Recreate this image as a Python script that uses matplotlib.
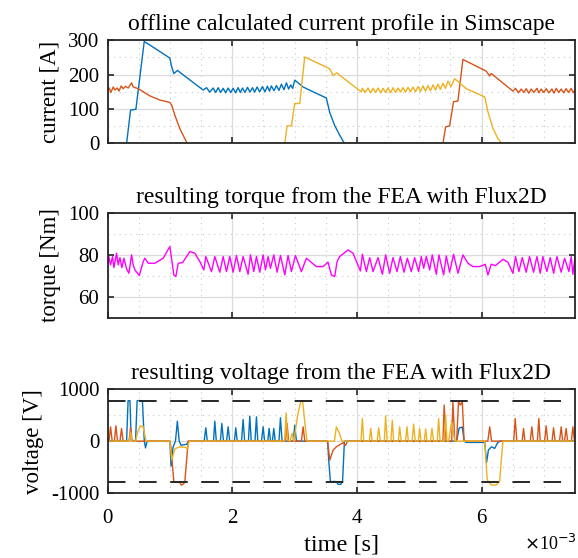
import matplotlib
matplotlib.use("Agg")
import matplotlib.pyplot as plt
from matplotlib.ticker import MultipleLocator, FuncFormatter
import numpy as np

# ---- data (time in ms) ----
# phase currents [A]
blue_cur_t = [0, 0.306, 0.37, 0.455, 0.589, 0.627, 1.0, 1.03, 1.064, 1.122, 1.534,
              1.588, 1.64, 1.694, 1.735, 1.775, 1.815, 1.855, 1.895, 1.935, 1.975, 2.015, 2.055,
              2.095, 2.13, 2.165, 2.205, 2.245, 2.285, 2.325, 2.36, 2.400, 2.44, 2.485, 2.525,
              2.565, 2.597, 2.629, 2.67, 2.709, 2.75, 2.789, 2.83, 2.870, 2.905, 2.939, 2.97, 3.003,
              3.137, 3.297, 3.51, 3.564, 3.644, 3.724, 3.80, 7.5]
blue_cur = [0, 0, 97, 99, 296, 292, 248, 222, 203, 212, 155,
            162, 149, 161, 148, 162, 148, 160, 147, 161, 148, 160, 147,
            162, 148, 161, 148, 163, 149, 162, 149, 164, 150, 165, 150,
            166, 152, 167, 153, 168, 154, 172, 156, 176, 158, 170, 160, 184,
            164, 150, 132, 90, 52, 24, 0, 0]

red_cur_t = [0, 0.028, 0.054, 0.092, 0.119, 0.156, 0.183, 0.220, 0.252, 0.290, 0.332, 0.386,
             0.412, 0.493, 0.68, 0.84, 1.0, 1.03, 1.08, 1.16, 1.24, 1.278,
             5.38, 5.423, 5.487, 5.55, 5.62, 5.70, 6.074, 6.128, 6.155, 6.502,
             6.545, 6.59, 6.636, 6.676, 6.716, 6.756, 6.796, 6.84, 6.887, 6.92, 6.956, 6.996,
             7.037, 7.08, 7.127, 7.16, 7.197, 7.237, 7.277, 7.316, 7.356, 7.396, 7.437, 7.47, 7.5]
red_cur = [150, 161, 148, 164, 155, 161, 152, 167, 159, 166, 161, 176,
           164, 159, 138, 126, 119, 111, 82, 43, 14, 0,
           0, 48, 51, 121, 123, 244, 210, 196, 203, 152,
           160, 147, 158, 148, 159, 146, 158, 148, 160, 147, 158, 148,
           159, 147, 158, 146, 160, 148, 158, 147, 159, 148, 160, 147, 155]

yel_cur_t = [0, 2.843, 2.88, 2.95, 3.003, 3.083, 3.163, 3.564, 3.617, 3.68, 3.724, 4.07,
             4.088, 4.13, 4.179, 4.22, 4.259, 4.30, 4.339, 4.38, 4.419, 4.46, 4.500, 4.54,
             4.579, 4.62, 4.660, 4.70, 4.739, 4.78, 4.820, 4.86, 4.900, 4.94, 4.980, 5.02,
             5.060, 5.10, 5.140, 5.18, 5.220, 5.26, 5.300, 5.34, 5.380, 5.42, 5.461, 5.51, 5.567,
             5.755, 6.05, 6.101, 6.181, 6.262, 6.326, 7.5]
yel_cur = [0, 0, 51, 51, 116, 116, 251, 217, 198, 205, 198, 150,
           160, 148, 161, 147, 160, 148, 161, 147, 160, 148, 161, 147,
           162, 148, 161, 149, 162, 149, 163, 150, 164, 150, 165, 151,
           167, 152, 168, 153, 170, 155, 172, 157, 175, 160, 181, 165, 188,
           159, 135, 92, 44, 14, 0, 0]

# torque [Nm]
torque_t = [0, 0.017, 0.049, 0.081, 0.103, 0.145, 0.172, 0.199, 0.231, 0.263, 0.306, 0.343,
            0.386, 0.412, 0.439, 0.509, 0.573, 0.599, 0.653, 0.760, 0.893, 1.000, 1.064, 1.096,
            1.134, 1.203, 1.321, 1.401, 1.481, 1.545, 1.577, 1.668, 1.721, 1.801, 1.855, 1.908,
            1.961, 2.015, 2.068, 2.122, 2.175, 2.255, 2.293, 2.346, 2.389, 2.442, 2.496, 2.533,
            2.576, 2.613, 2.667, 2.720, 2.774, 2.843, 2.896, 2.950, 3.014, 3.110, 3.190, 3.350,
            3.457, 3.537, 3.591, 3.644, 3.682, 3.724, 3.858, 3.938, 4.056, 4.088, 4.152, 4.205,
            4.259, 4.339, 4.409, 4.461, 4.525, 4.579, 4.643, 4.697, 4.755, 4.809, 4.873, 4.926,
            4.990, 5.033, 5.071, 5.113, 5.167, 5.209, 5.274, 5.316, 5.391, 5.434, 5.487, 5.551,
            5.621, 5.701, 5.781, 5.861, 5.968, 6.059, 6.102, 6.155, 6.224, 6.342, 6.422, 6.502,
            6.545, 6.598, 6.652, 6.716, 6.769, 6.834, 6.887, 6.941, 6.983, 7.047, 7.101, 7.155,
            7.208, 7.277, 7.331, 7.400, 7.437, 7.464, 7.5]
torque = [74.4, 79.7, 75.2, 79.2, 73.9, 80.8, 75.2, 78.7, 73.9, 78.4, 73.3, 71.2,
          80.0, 75.2, 72.8, 70.1, 76.8, 78.4, 76.0, 76.0, 78.4, 84.0, 70.4, 69.6,
          76.0, 76.3, 81.6, 80.8, 76.8, 72.8, 79.2, 72.0, 79.2, 71.7, 79.2, 72.0,
          79.2, 71.7, 79.7, 72.0, 79.2, 70.7, 80.0, 72.0, 79.2, 71.7, 80.0, 72.8,
          79.2, 73.6, 80.0, 71.7, 79.7, 70.4, 79.7, 72.0, 79.7, 72.0, 78.4, 74.4,
          74.4, 76.5, 70.4, 69.6, 76.8, 79.2, 82.4, 80.8, 72.3, 80.3, 72.0, 78.7,
          72.0, 78.7, 70.7, 80.0, 71.2, 78.7, 72.0, 79.2, 71.7, 78.4, 72.0, 78.7,
          72.0, 79.2, 73.6, 79.2, 72.8, 80.0, 70.7, 80.0, 70.4, 79.5, 71.7, 80.3,
          71.2, 80.0, 76.0, 74.4, 74.4, 75.5, 70.4, 75.5, 74.9, 77.9, 76.5, 71.2,
          79.2, 72.0, 78.7, 71.7, 79.2, 71.7, 79.2, 71.2, 79.2, 72.0, 78.7, 71.2,
          79.2, 71.7, 78.4, 72.0, 79.2, 70.7, 79.2]

# phase voltages [V]
blue_volt_t = [0, 0.306, 0.33, 0.36, 0.38, 0.45, 0.475, 0.56, 0.59, 0.61, 0.63, 0.66,
               1.0, 1.02, 1.05, 1.09, 1.12, 1.15, 1.18, 1.27, 1.3,
               1.55, 1.577, 1.60, 1.70, 1.721, 1.745, 1.81, 1.834, 1.86, 1.91, 1.935, 1.96,
               2.035, 2.058, 2.08, 2.15, 2.175, 2.20, 2.26, 2.282, 2.305, 2.365, 2.389, 2.41,
               2.47, 2.496, 2.52, 2.57, 2.592, 2.615, 2.645, 2.667, 2.69, 2.75, 2.774, 2.80,
               2.98, 3.003, 3.03, 3.53, 3.55, 3.575, 3.67, 3.70, 3.74, 3.77, 3.80,
               5.60, 5.64, 5.69, 5.72, 5.75, 6.05, 6.08, 6.11, 6.16, 6.21, 6.26, 6.30, 7.5]
blue_volt = [0, 0, 775, 775, 10, 10, 775, 775, 0, -130, -20, 0,
             0, -480, -120, 0, 380, 0, -80, -60, 0,
             0, 255, 0, 0, 382, 0, 0, 338, 0, 0, 274, 0,
             0, 255, 0, 0, 414, 0, 0, 478, 0, 0, 465, 0,
             0, 274, 0, 0, 242, 0, 0, 242, 0, 0, 446, 0,
             0, 306, 0, 0, -400, -775, -775, -830, -830, -775, 0,
             0, 250, 270, 0, -25, -25, -410, -170, -110, -140, -25, 0, 0]

red_volt_t = [0, 0.025, 0.049, 0.075, 0.11, 0.135, 0.16, 0.20, 0.225, 0.25, 0.345, 0.37, 0.395,
              1.0, 1.016, 1.064, 1.15, 1.187, 1.22, 1.24, 1.294,
              2.855, 2.88, 2.905, 3.11, 3.137, 3.165, 3.53, 3.565, 3.62, 3.67, 3.78, 3.82, 3.85,
              5.38, 5.40, 5.43, 5.52, 5.54, 5.57, 5.60, 5.63, 5.66, 5.69, 5.72,
              6.10, 6.13, 6.16, 6.515, 6.539, 6.565, 6.65, 6.673, 6.695, 6.78, 6.806, 6.83,
              6.895, 6.918, 6.94, 7.01, 7.036, 7.06, 7.13, 7.154, 7.18, 7.25, 7.277, 7.30,
              7.33, 7.356, 7.38, 7.44, 7.464, 7.49, 7.5]
red_volt = [0, 0, 274, 0, 0, 293, 0, 0, 242, 0, 0, 260, 0,
            0, -100, -778, -778, -845, -820, -778, 0,
            0, 340, 0, 0, 274, 0, 0, -363, -170, -110, -30, -80, 0,
            0, 690, 0, 0, 750, 0, 0, 760, 690, 760, 0,
            0, 274, 0, 0, 433, 0, 0, 242, 0, 0, 274, 0,
            0, 433, 0, 0, 293, 0, 0, 255, 0, 0, 274, 0,
            0, 242, 0, 0, 274, 0, 0]

yel_volt_t = [0, 0.35, 0.37, 0.39, 0.45, 0.49, 0.53, 0.57, 0.60, 0.62,
              1.0, 1.03, 1.08, 1.15, 1.25, 1.28, 1.31,
              2.84, 2.865, 2.89, 2.93, 2.96, 2.99, 3.05, 3.10, 3.13, 3.17, 3.20,
              3.64, 3.67, 3.72, 3.76,
              4.065, 4.088, 4.11, 4.20, 4.221, 4.245, 4.325, 4.35, 4.375, 4.44, 4.461, 4.485,
              4.545, 4.568, 4.59, 4.665, 4.686, 4.71, 4.78, 4.803, 4.825, 4.885, 4.910, 4.935,
              4.985, 5.006, 5.03, 5.08, 5.103, 5.125, 5.18, 5.204, 5.23, 5.29, 5.311, 5.335,
              5.40, 5.423, 5.445, 5.47, 5.52, 5.57,
              6.05, 6.09, 6.155, 6.235, 6.289, 6.342, 7.5]
yel_volt = [0, 0, 175, 0, 0, 200, 290, 280, 100, 0,
            0, -360, -150, -110, -120, -150, 0,
            0, 540, 20, 0, 150, 0, 500, 760, 760, 300, 0,
            0, 270, 150, 0,
            0, 433, 0, 0, 242, 0, 0, 255, 0, 0, 484, 0,
            0, 401, 0, 0, 274, 0, 0, 274, 0, 0, 325, 0,
            0, 242, 0, 0, 229, 0, 0, 242, 0, 0, 433, 0,
            0, 497, 0, 0, 370, 0,
            0, -745, -841, -841, -778, 0, 0]

dc_link = 775  # dashed limit lines

C_BLUE, C_RED, C_YEL = "#0072BD", "#D95319", "#EDB120"

plt.rcParams["font.family"] = ["Liberation Serif", "DejaVu Serif"]
plt.rcParams["font.size"] = 15
plt.rcParams["axes.unicode_minus"] = False

TITLE_FS = 17
LABEL_FS = 16.5

fig = plt.figure(figsize=(5.78, 5.58), dpi=100)
ax1 = fig.add_axes([0.186, 0.743, 0.809, 0.185])
ax2 = fig.add_axes([0.186, 0.431, 0.809, 0.187])
ax3 = fig.add_axes([0.186, 0.116, 0.809, 0.187])

ms = lambda v: np.asarray(v) * 1e-3

ax1.plot(ms(blue_cur_t), blue_cur, color=C_BLUE, lw=1.0)
ax1.plot(ms(red_cur_t), red_cur, color=C_RED, lw=1.0)
ax1.plot(ms(yel_cur_t), yel_cur, color=C_YEL, lw=1.0)
ax1.set_ylim(0, 300)
ax1.yaxis.set_major_locator(MultipleLocator(100))
ax1.yaxis.set_minor_locator(MultipleLocator(50))
ax1.set_ylabel("current [A]", fontsize=LABEL_FS, labelpad=5)
ax1.set_title("offline calculated current profile in Simscape", fontsize=TITLE_FS, pad=7)

ax2.plot(ms(torque_t), torque, color="#FF00FF", lw=1.0)
ax2.set_ylim(50, 100)
ax2.yaxis.set_major_locator(MultipleLocator(20))
ax2.yaxis.set_minor_locator(MultipleLocator(10))
ax2.set_yticks([60, 80, 100])
ax2.set_ylabel("torque [Nm]", fontsize=LABEL_FS, labelpad=5)
ax2.set_title("resulting torque from the FEA with Flux2D", fontsize=TITLE_FS, pad=7)

ax3.plot(ms(blue_volt_t), blue_volt, color=C_BLUE, lw=1.0)
ax3.plot(ms(red_volt_t), red_volt, color=C_RED, lw=1.0)
ax3.plot(ms(yel_volt_t), yel_volt, color=C_YEL, lw=1.0)
for lvl in (dc_link, -dc_link):
    ax3.axhline(lvl, color="#262626", lw=1.4, ls=(0, (9, 7)))
ax3.set_ylim(-1000, 1000)
ax3.yaxis.set_major_locator(MultipleLocator(1000))
ax3.yaxis.set_minor_locator(MultipleLocator(500))
ax3.set_ylabel("voltage [V]", fontsize=LABEL_FS, labelpad=5)
ax3.set_title("resulting voltage from the FEA with Flux2D", fontsize=TITLE_FS, pad=7)
ax3.set_xlabel("time [s]", fontsize=17.5, labelpad=5)
ax3.xaxis.set_major_formatter(FuncFormatter(lambda v, p: f"{v * 1e3:g}"))

for ax in (ax1, ax2, ax3):
    ax.set_xlim(0, 7.5e-3)
    ax.xaxis.set_major_locator(MultipleLocator(2e-3))
    ax.xaxis.set_minor_locator(MultipleLocator(0.5e-3))
    ax.grid(which="major", color="#dcdcdc", lw=0.9)
    ax.grid(which="minor", color="#c8c8c8", lw=0.8, ls=(0, (1, 4)))
    ax.set_axisbelow(True)
    ax.tick_params(which="major", direction="in", top=True, right=True, length=4, width=1.2,
                   color="#262626", labelsize=15, pad=6)
    ax.tick_params(axis="x", which="major", pad=11)
    ax.tick_params(which="minor", length=0)
    for s in ax.spines.values():
        s.set_linewidth(1.3)
        s.set_color("#262626")
    if ax is not ax3:
        ax.tick_params(labelbottom=False)

fig.text(0.998, 0.008, r"$\times$10$^{-3}$", ha="right", va="bottom", fontsize=13)

fig.savefig("out.png", dpi=100)
